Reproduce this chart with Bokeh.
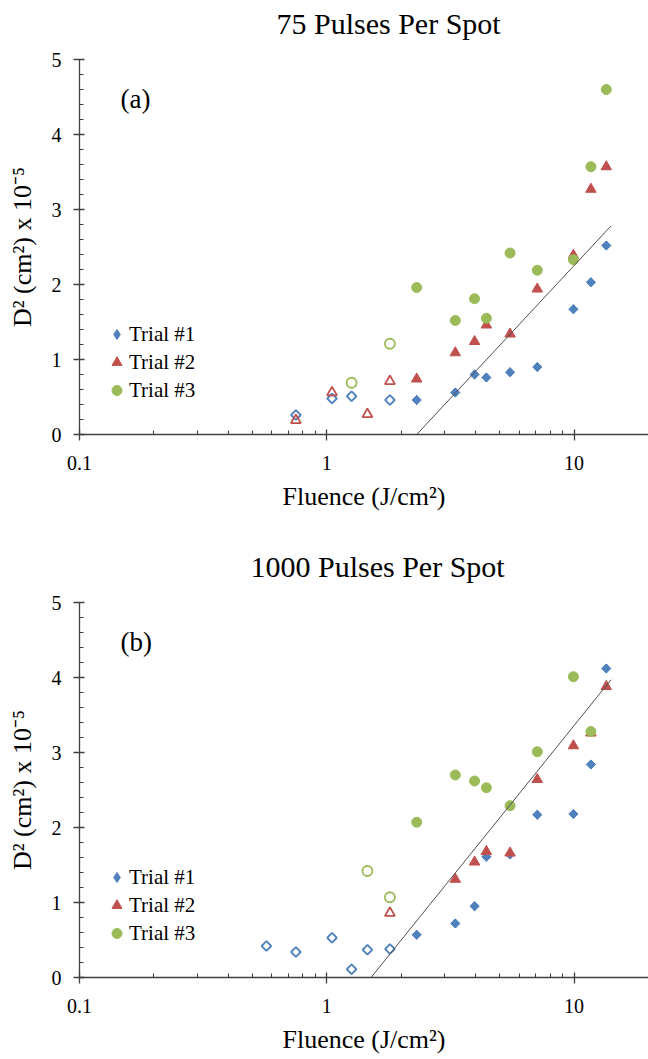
import numpy as np
from bokeh.plotting import figure
from bokeh.layouts import column
from bokeh.models import (FixedTicker, CustomJSTickFormatter, Label, Legend,
                          LegendItem, Range1d, Title)
from bokeh.embed import file_html
from bokeh.resources import INLINE

FONT = "Liberation Serif"
BLUE = "#4F81BD"
RED = "#C0504D"
GREEN = "#9BBB59"
AXIS = "#404040"

x_ticks = [0.1, 1, 10]
x_minor = [0.2, 0.3, 0.4, 0.5, 0.6, 0.7, 0.8, 0.9, 2, 3, 4, 5, 6, 7, 8, 9]
y_ticks = [0, 1, 2, 3, 4, 5]
y_minor = [0.2, 0.4, 0.6, 0.8, 1.2, 1.4, 1.6, 1.8, 2.2, 2.4, 2.6, 2.8,
           3.2, 3.4, 3.6, 3.8, 4.2, 4.4, 4.6, 4.8]

# ---------- Panel (a): 75 pulses per spot ----------
a_t1_x = [2.31, 3.31, 3.96, 4.42, 5.51, 7.10, 9.94, 11.7, 13.5]
a_t1_y = [0.46, 0.56, 0.80, 0.76, 0.83, 0.90, 1.67, 2.03, 2.52]
a_t1_open_x = [0.75, 1.05, 1.26, 1.80]
a_t1_open_y = [0.26, 0.48, 0.51, 0.46]
a_t2_x = [2.31, 3.31, 3.96, 4.42, 5.51, 7.10, 9.94, 11.7, 13.5]
a_t2_y = [0.74, 1.09, 1.24, 1.46, 1.34, 1.94, 2.39, 3.27, 3.57]
a_t2_open_x = [0.75, 1.05, 1.46, 1.80]
a_t2_open_y = [0.19, 0.56, 0.27, 0.71]
a_t3_x = [2.31, 3.31, 3.96, 4.42, 5.51, 7.10, 9.94, 11.7, 13.5]
a_t3_y = [1.96, 1.52, 1.81, 1.55, 2.42, 2.19, 2.33, 3.57, 4.60]
a_t3_open_x = [1.26, 1.80]
a_t3_open_y = [0.69, 1.21]
a_fit_x = [2.31, 14.1]
a_fit_y = [0.0, 2.78]

# ---------- Panel (b): 1000 pulses per spot ----------
b_t1_x = [2.31, 3.31, 3.96, 4.42, 5.51, 7.10, 9.94, 11.7, 13.5]
b_t1_y = [0.57, 0.72, 0.95, 1.61, 1.64, 2.17, 2.18, 2.84, 4.12]
b_t1_open_x = [0.57, 0.75, 1.05, 1.26, 1.46, 1.80]
b_t1_open_y = [0.42, 0.34, 0.53, 0.11, 0.37, 0.38]
b_t2_x = [3.31, 3.96, 4.42, 5.51, 7.10, 9.94, 11.7, 13.5]
b_t2_y = [1.31, 1.54, 1.68, 1.66, 2.64, 3.09, 3.26, 3.88]
b_t2_open_x = [1.80]
b_t2_open_y = [0.86]
b_t3_x = [2.31, 3.31, 3.96, 4.42, 5.51, 7.10, 9.94, 11.7]
b_t3_y = [2.07, 2.70, 2.62, 2.53, 2.29, 3.01, 4.01, 3.28]
b_t3_open_x = [1.46, 1.80]
b_t3_open_y = [1.42, 1.07]
b_fit_x = [1.51, 14.1]
b_fit_y = [0.0, 3.97]

legend_labels = ["Trial #1", "Trial #2", "Trial #3"]


def make_panel(title, title_offset, tag, t1, t1o, t2, t2o, t3, t3o, fit,
               height, border_top, border_bottom):
    p = figure(width=648, height=height, x_axis_type="log",
               x_range=Range1d(0.1, 20), y_range=Range1d(0, 5),
               output_backend="svg", toolbar_location=None,
               min_border_left=79, min_border_right=0,
               min_border_top=border_top, min_border_bottom=border_bottom)
    p.outline_line_color = None
    p.xgrid.visible = False
    p.ygrid.visible = False
    p.background_fill_color = "white"
    p.border_fill_color = "white"

    # gap between frame and title, then the title itself
    p.add_layout(Title(text=" ", text_font=FONT, text_font_size="13px",
                       standoff=1), "above")
    p.add_layout(Title(text=title, align="left", offset=title_offset,
                       text_font=FONT, text_font_size="30px",
                       text_font_style="normal", text_color="black",
                       standoff=3), "above")

    # axes
    p.xaxis.ticker = FixedTicker(ticks=x_ticks, minor_ticks=x_minor)
    p.xaxis.formatter = CustomJSTickFormatter(code="return tick.toString();")
    p.yaxis.ticker = FixedTicker(ticks=y_ticks, minor_ticks=y_minor)
    for ax in (p.xaxis, p.yaxis):
        ax.axis_line_color = AXIS
        ax.axis_line_width = 1.3
        ax.major_tick_line_color = AXIS
        ax.minor_tick_line_color = AXIS
        ax.major_tick_line_width = 1.3
        ax.minor_tick_line_width = 1.1
        ax.major_tick_in = 5
        ax.major_tick_out = 6
        ax.minor_tick_in = 4
        ax.minor_tick_out = 0
        ax.major_label_text_font = FONT
        ax.major_label_text_font_size = "20px"
        ax.major_label_text_color = "black"
        ax.axis_label_text_font = FONT
        ax.axis_label_text_font_size = "26px"
        ax.axis_label_text_font_style = "normal"
        ax.axis_label_text_color = "black"
    p.xaxis.axis_label = "Fluence (J/cm²)"
    p.yaxis.axis_label = "D² (cm²) x 10⁻⁵"
    p.xaxis.major_label_standoff = 15
    p.xaxis.axis_label_standoff = 9
    p.yaxis.major_label_standoff = 12
    p.yaxis.axis_label_standoff = 12

    # trial 1: narrow diamond (used for the legend swatch, since legend
    # glyphs are drawn unrotated) covered by the rotated-square marker
    r1 = p.scatter(t1[0], t1[1], marker="diamond", size=9,
                   fill_color=BLUE, line_color=BLUE)
    p.scatter(t1[0], t1[1], marker="square", angle=np.pi / 4, size=6.5,
              fill_color=BLUE, line_color=BLUE)
    p.scatter(t1o[0], t1o[1], marker="square", angle=np.pi / 4, size=6.8,
              fill_color=None, line_color=BLUE, line_width=1.8)
    r2 = p.scatter(t2[0], t2[1], marker="triangle", size=10.5,
                   fill_color=RED, line_color=RED)
    p.scatter(t2o[0], t2o[1], marker="triangle", size=10,
              fill_color=None, line_color=RED, line_width=1.8)
    r3 = p.scatter(t3[0], t3[1], marker="circle", size=10,
                   fill_color=GREEN, line_color=GREEN)
    p.scatter(t3o[0], t3o[1], marker="circle", size=10,
              fill_color=None, line_color=GREEN, line_width=1.8)

    p.line(fit[0], fit[1], line_color="#505050", line_width=1)

    legend = Legend(items=[LegendItem(label=legend_labels[0], renderers=[r1]),
                           LegendItem(label=legend_labels[1], renderers=[r2]),
                           LegendItem(label=legend_labels[2], renderers=[r3])],
                    location=(25, 30))
    legend.background_fill_alpha = 0
    legend.border_line_color = None
    legend.label_text_font = FONT
    legend.label_text_font_size = "21px"
    legend.label_text_font_style = "normal"
    legend.label_text_color = "black"
    legend.glyph_width = 25
    legend.glyph_height = 28
    legend.label_height = 28
    legend.spacing = 0
    legend.padding = 0
    legend.margin = 0
    legend.label_standoff = 0
    p.add_layout(legend)

    p.add_layout(Label(x=0.1466, y=4.47, text=tag, text_font=FONT,
                       text_font_size="27px", text_baseline="middle",
                       text_align="left", text_color="black"))
    return p


p1 = make_panel("75 Pulses Per Spot", 197, "(a)",
                (a_t1_x, a_t1_y), (a_t1_open_x, a_t1_open_y),
                (a_t2_x, a_t2_y), (a_t2_open_x, a_t2_open_y),
                (a_t3_x, a_t3_y), (a_t3_open_x, a_t3_open_y),
                (a_fit_x, a_fit_y), height=544, border_top=59,
                border_bottom=110)
p2 = make_panel("1000 Pulses Per Spot", 171, "(b)",
                (b_t1_x, b_t1_y), (b_t1_open_x, b_t1_open_y),
                (b_t2_x, b_t2_y), (b_t2_open_x, b_t2_open_y),
                (b_t3_x, b_t3_y), (b_t3_open_x, b_t3_open_y),
                (b_fit_x, b_fit_y), height=515, border_top=58,
                border_bottom=82)

layout = column(p1, p2, spacing=0)
open("out.html", "w").write(file_html(layout, INLINE))
